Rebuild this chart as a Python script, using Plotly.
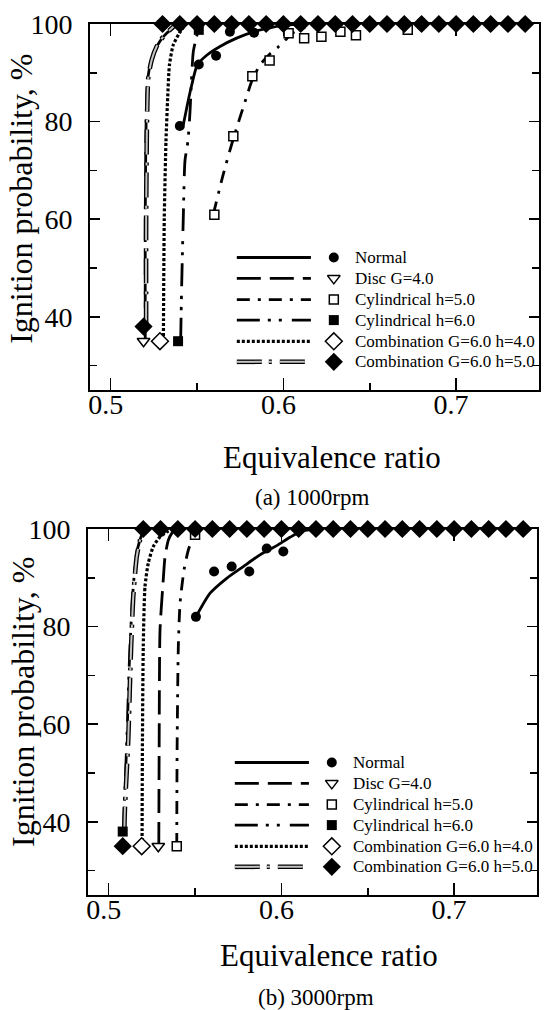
import plotly.graph_objects as go

SERIF = "Liberation Serif"
X_RANGE = [0.488, 0.748]
Y_RANGE = [25, 100]

series_names = ["Normal", "Disc G=4.0", "Cylindrical h=5.0", "Cylindrical h=6.0",
                "Combination G=6.0 h=4.0", "Combination G=6.0 h=5.0"]

# ---------------- (a) 1000 rpm : measured points ----------------
a_normal_x = [0.540, 0.551, 0.561, 0.569, 0.583, 0.59, 0.60, 0.61, 0.62, 0.63, 0.64, 0.65,
              0.66, 0.67, 0.68, 0.69, 0.70, 0.71, 0.72, 0.73, 0.74, 0.75]
a_normal_y = [79.1, 91.7, 93.5, 98.4, 98.2, 100, 100, 100, 100, 100, 100, 100,
              100, 100, 100, 100, 100, 100, 100, 100, 100, 100]
a_disc_x = [0.519]
a_disc_y = [35.0]
a_cyl5_x = [0.560, 0.571, 0.582, 0.592, 0.603, 0.612, 0.622, 0.633, 0.642, 0.672]
a_cyl5_y = [60.9, 77.0, 89.3, 92.5, 98.1, 97.1, 97.4, 98.4, 97.7, 98.8]
a_cyl6_x = [0.539, 0.551]
a_cyl6_y = [35.0, 98.8]
a_comb4_x = [0.5285]
a_comb4_y = [35.0]
a_comb5_x = [0.519, 0.53, 0.54, 0.55, 0.56, 0.57, 0.58, 0.59, 0.60, 0.61, 0.62, 0.63,
             0.64, 0.65, 0.66, 0.67, 0.68, 0.69, 0.70, 0.71, 0.72, 0.73, 0.74, 0.75]
a_comb5_y = [38.0, 100, 100, 100, 100, 100, 100, 100, 100, 100, 100, 100,
             100, 100, 100, 100, 100, 100, 100, 100, 100, 100, 100, 100]

# (a) fitted curves
a_normal_fit_x = [0.542, 0.5447, 0.5469, 0.5501, 0.5556, 0.5633, 0.5729, 0.5826, 0.5922, 0.6019, 0.612]
a_normal_fit_y = [79.3, 84.0, 87.5, 91.6, 93.6, 95.4, 97.1, 98.4, 99.2, 99.8, 100]
a_disc_fit_x = [0.5200, 0.5200, 0.5205, 0.5215, 0.5235, 0.5265, 0.5305, 0.5350, 0.5400]
a_disc_fit_y = [35.0, 60.0, 80.0, 89.0, 92.5, 95.3, 97.4, 98.9, 100]
a_cyl5_fit_x = [0.5594, 0.5650, 0.5710, 0.5777, 0.5816, 0.5864, 0.5920, 0.5970, 0.6019, 0.6055, 0.6134, 0.6200]
a_cyl5_fit_y = [61.0, 69.0, 76.5, 84.0, 88.2, 91.6, 93.8, 95.3, 97.0, 98.2, 99.4, 100]
a_cyl6_fit_x = [0.5405, 0.5410, 0.5420, 0.5430, 0.5447, 0.5459, 0.5469, 0.5478, 0.5494, 0.5510]
a_cyl6_fit_y = [35.0, 45.0, 60.0, 72.0, 76.0, 82.0, 89.5, 94.3, 97.0, 99.0]
a_comb4_fit_x = [0.5305, 0.5310, 0.5320, 0.5330, 0.5340, 0.5362, 0.5397, 0.5430]
a_comb4_fit_y = [35.0, 60.0, 76.0, 85.0, 91.6, 95.7, 98.1, 99.8]
a_comb5_fit_x = [0.5205, 0.5205, 0.5210, 0.5218, 0.5237, 0.5266, 0.5304, 0.5343, 0.5380]
a_comb5_fit_y = [38.0, 60.0, 80.0, 89.2, 92.6, 95.4, 97.4, 98.8, 100]

# ---------------- (b) 3000 rpm : measured points ----------------
b_normal_x = [0.5505, 0.561, 0.5712, 0.5814, 0.5915, 0.6011, 0.61, 0.62, 0.63, 0.64, 0.65,
              0.66, 0.67, 0.68, 0.69, 0.70, 0.71, 0.72, 0.73, 0.74, 0.75]
b_normal_y = [82.0, 91.3, 92.3, 91.3, 96.0, 95.4, 100, 100, 100, 100, 100,
              100, 100, 100, 100, 100, 100, 100, 100, 100, 100]
b_disc_x = [0.5287]
b_disc_y = [35.0]
b_cyl5_x = [0.5394, 0.550]
b_cyl5_y = [35.0, 98.8]
b_cyl6_x = [0.5081]
b_cyl6_y = [38.0]
b_comb4_x = [0.5191]
b_comb4_y = [35.0]
b_comb5_x = [0.5081, 0.52, 0.53, 0.54, 0.55, 0.56, 0.57, 0.58, 0.59, 0.60, 0.61, 0.62, 0.63,
             0.64, 0.65, 0.66, 0.67, 0.68, 0.69, 0.70, 0.71, 0.72, 0.73, 0.74, 0.75]
b_comb5_y = [35.0, 100, 100, 100, 100, 100, 100, 100, 100, 100, 100, 100, 100,
             100, 100, 100, 100, 100, 100, 100, 100, 100, 100, 100, 100]

# (b) fitted curves
b_normal_fit_x = [0.5505, 0.5586, 0.5683, 0.5779, 0.5876, 0.5973, 0.6050, 0.6120, 0.6200]
b_normal_fit_y = [82.0, 86.8, 89.9, 92.3, 94.7, 96.6, 98.3, 99.6, 100]
b_disc_fit_x = [0.5290, 0.5292, 0.5297, 0.5313, 0.5326, 0.5345, 0.5365, 0.5390]
b_disc_fit_y = [35.0, 55.0, 79.3, 88.2, 94.3, 97.7, 99.1, 100]
b_cyl5_fit_x = [0.5394, 0.5396, 0.5403, 0.5413, 0.5436, 0.5461, 0.5490, 0.5530]
b_cyl5_fit_y = [35.0, 55.0, 75.9, 84.8, 91.6, 95.7, 98.4, 100]
b_cyl6_fit_x = [0.5085, 0.5090, 0.5105, 0.5120, 0.5138, 0.5158, 0.5180, 0.5205]
b_cyl6_fit_y = [38.0, 43.0, 56.8, 73.2, 86.1, 94.3, 97.7, 100]
b_comb4_fit_x = [0.5193, 0.5195, 0.5200, 0.5210, 0.5229, 0.5258, 0.5297, 0.5336, 0.5370]
b_comb4_fit_y = [35.0, 55.0, 75.9, 88.2, 93.0, 96.4, 98.4, 99.4, 100]
b_comb5_fit_x = [0.5090, 0.5094, 0.5113, 0.5127, 0.5142, 0.5162, 0.5181, 0.5200]
b_comb5_fit_y = [38.0, 43.0, 56.8, 73.2, 86.1, 94.3, 97.7, 100]

panel_a = {
    "Normal": (a_normal_x, a_normal_y, a_normal_fit_x, a_normal_fit_y),
    "Disc G=4.0": (a_disc_x, a_disc_y, a_disc_fit_x, a_disc_fit_y),
    "Cylindrical h=5.0": (a_cyl5_x, a_cyl5_y, a_cyl5_fit_x, a_cyl5_fit_y),
    "Cylindrical h=6.0": (a_cyl6_x, a_cyl6_y, a_cyl6_fit_x, a_cyl6_fit_y),
    "Combination G=6.0 h=4.0": (a_comb4_x, a_comb4_y, a_comb4_fit_x, a_comb4_fit_y),
    "Combination G=6.0 h=5.0": (a_comb5_x, a_comb5_y, a_comb5_fit_x, a_comb5_fit_y),
}
panel_b = {
    "Normal": (b_normal_x, b_normal_y, b_normal_fit_x, b_normal_fit_y),
    "Disc G=4.0": (b_disc_x, b_disc_y, b_disc_fit_x, b_disc_fit_y),
    "Cylindrical h=5.0": (b_cyl5_x, b_cyl5_y, b_cyl5_fit_x, b_cyl5_fit_y),
    "Cylindrical h=6.0": (b_cyl6_x, b_cyl6_y, b_cyl6_fit_x, b_cyl6_fit_y),
    "Combination G=6.0 h=4.0": (b_comb4_x, b_comb4_y, b_comb4_fit_x, b_comb4_fit_y),
    "Combination G=6.0 h=5.0": (b_comb5_x, b_comb5_y, b_comb5_fit_x, b_comb5_fit_y),
}

STYLE = {
    "Normal": dict(dash="solid", width=2.8, symbol="circle", size=10, filled=True),
    "Disc G=4.0": dict(dash="24px,9px", width=2.8, symbol="triangle-down", size=11, filled=False),
    "Cylindrical h=5.0": dict(dash="13px,8px,3px,8px", width=2.8, symbol="square", size=9, filled=False),
    "Cylindrical h=6.0": dict(dash="23px,8px,3px,8px,3px,10px", width=2.8, symbol="square", size=10, filled=True),
    "Combination G=6.0 h=4.0": dict(dash="3px,2px", width=3.2, symbol="diamond", size=13, filled=False),
    "Combination G=6.0 h=5.0": dict(dash="25px,7px,3px,8px", width=4.6, symbol="diamond", size=14, filled=True,
                                    inner="#c4c4c4"),
}
marker_order = ["Cylindrical h=5.0", "Disc G=4.0", "Combination G=6.0 h=4.0",
                "Normal", "Cylindrical h=6.0", "Combination G=6.0 h=5.0"]

# custom legend geometry (fractions of plot area)
LEG_LINE_X = [0.327, 0.492]
LEG_MARK_X = 0.543
LEG_TEXT_X = 0.585
LEG_ROWS = [0.362, 0.305, 0.247, 0.191, 0.133, 0.077]

fig = go.Figure()


def line_traces(xs, ys, name, xa, ya):
    st = STYLE[name]
    out = [go.Scatter(x=xs, y=ys, mode="lines", xaxis=xa, yaxis=ya, showlegend=False,
                      line=dict(color="black", width=st["width"], dash=st["dash"], shape="spline",
                                smoothing=0.6), hoverinfo="skip")]
    if "inner" in st:
        out.append(go.Scatter(x=xs, y=ys, mode="lines", xaxis=xa, yaxis=ya, showlegend=False,
                              line=dict(color=st["inner"], width=st["width"] - 2.6, dash=st["dash"],
                                        shape="spline", smoothing=0.6), hoverinfo="skip"))
    return out


def marker_trace(xs, ys, name, xa, ya):
    st = STYLE[name]
    return go.Scatter(x=xs, y=ys, mode="markers", xaxis=xa, yaxis=ya, showlegend=False,
                      cliponaxis=False, name=name,
                      marker=dict(symbol=st["symbol"], size=st["size"],
                                  color="black" if st["filled"] else "white",
                                  line=dict(color="black", width=0 if st["filled"] else 1.5)))


def add_panel(panel, xa, ya, lxa, lya):
    for name in series_names:
        _, _, fx, fy = panel[name]
        for t in line_traces(fx, fy, name, xa, ya):
            fig.add_trace(t)
    for name in marker_order:
        mx, my, _, _ = panel[name]
        fig.add_trace(marker_trace(mx, my, name, xa, ya))
    # legend
    for i, name in enumerate(series_names):
        row = LEG_ROWS[i]
        for t in line_traces(LEG_LINE_X, [row, row], name, lxa, lya):
            fig.add_trace(t)
        fig.add_trace(marker_trace([LEG_MARK_X], [row], name, lxa, lya))
        fig.add_annotation(x=LEG_TEXT_X, y=row, xref=lxa, yref=lya, text=name, showarrow=False,
                           xanchor="left", yanchor="middle",
                           font=dict(family=SERIF, size=17, color="black"))


add_panel(panel_a, "x", "y", "x3", "y3")
add_panel(panel_b, "x2", "y2", "x4", "y4")

tickfont = dict(family=SERIF, size=28, color="black")
xcommon = dict(range=X_RANGE, showline=True, linecolor="black", linewidth=2, mirror="ticks",
               ticks="inside", ticklen=12, tickwidth=1.5, tickcolor="black", dtick=0.1, tick0=0,
               tickformat=".1f", showgrid=False, zeroline=False, tickfont=tickfont,
               ticklabelstandoff=-12, ticklabelshift=-5,
               minor=dict(dtick=0.05, tick0=0, ticks="inside", ticklen=7, tickwidth=1.5,
                          tickcolor="black", showgrid=False))
ycommon = dict(range=Y_RANGE, showline=True, linecolor="black", linewidth=2, mirror="ticks",
               ticks="inside", ticklen=10, tickwidth=1.5, tickcolor="black", dtick=20, tick0=0,
               showgrid=False, zeroline=False, tickfont=tickfont, ticklabelstandoff=10,
               minor=dict(dtick=10, tick0=0, ticks="inside", ticklen=7, tickwidth=1.5,
                          tickcolor="black", showgrid=False))
hidden = dict(range=[0, 1], visible=False, showgrid=False, zeroline=False, fixedrange=True)

fig.update_layout(
    width=547, height=1010, margin=dict(l=0, r=0, t=0, b=0),
    paper_bgcolor="white", plot_bgcolor="white", template="none", showlegend=False,
    xaxis=dict(domain=[90 / 547, 539 / 547], anchor="y", **xcommon),
    yaxis=dict(domain=[1 - 390 / 1010, 1 - 24 / 1010], anchor="x", **ycommon),
    xaxis2=dict(domain=[88 / 547, 537 / 547], anchor="y2", **xcommon),
    yaxis2=dict(domain=[1 - 895 / 1010, 1 - 529 / 1010], anchor="x2", **ycommon),
    xaxis3=dict(overlaying="x", anchor="y3", **hidden),
    yaxis3=dict(overlaying="y", anchor="x3", **hidden),
    xaxis4=dict(overlaying="x2", anchor="y4", **hidden),
    yaxis4=dict(overlaying="y2", anchor="x4", **hidden),
)

titles = [
    ("Equivalence ratio", 0.6064, 0.5475, 0, 31),
    ("Equivalence ratio", 0.6015, 0.0537, 0, 31),
    ("Ignition probability, %", 0.039, 0.8035, -90, 32),
    ("Ignition probability, %", 0.043, 0.3045, -90, 32),
    ("(a) 1000rpm", 0.5704, 0.5070, 0, 23),
    ("(b) 3000rpm", 0.5777, 0.0125, 0, 23),
]
for text, x, y, ang, size in titles:
    fig.add_annotation(x=x, y=y, xref="paper", yref="paper", text=text, showarrow=False,
                       textangle=ang, xanchor="center", yanchor="middle",
                       font=dict(family=SERIF, size=size, color="black"))

fig.write_html("out.html", config={"displayModeBar": False, "staticPlot": True},
               post_script="document.body.style.margin='0';document.body.style.overflow='hidden';")
